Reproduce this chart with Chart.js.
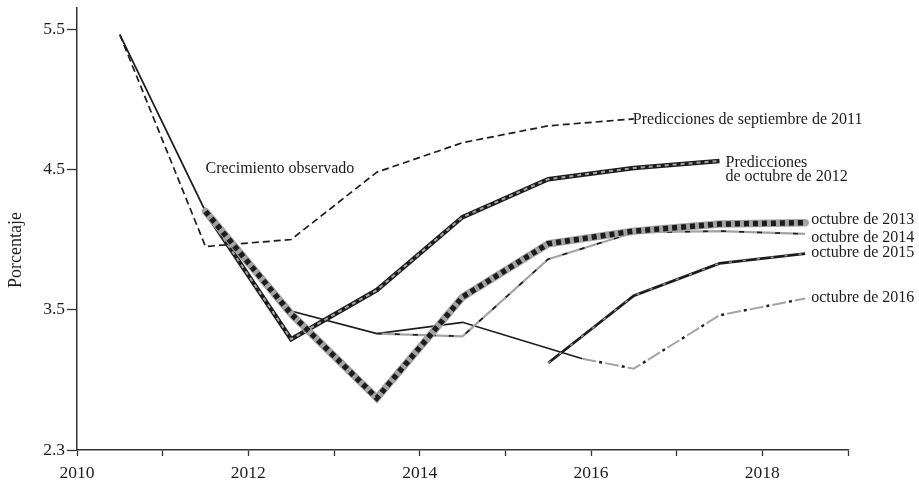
<!DOCTYPE html>
<html>
<head>
<meta charset="utf-8">
<script src="https://cdn.jsdelivr.net/npm/chart.js@4/dist/chart.umd.min.js"></script>
<style>
  html, body { margin: 0; padding: 0; background: #ffffff; }
  #wrap { width: 919px; height: 482px; }
</style>
</head>
<body>
<div id="wrap"><canvas id="growth" width="919" height="482"></canvas></div>
<script>
// Axis ticks
const xTickLabels = ['2010', '2012', '2014', '2016', '2018'];
const yTickValues = [2.5, 3.5, 4.5, 5.5];
const yTickLabels = ['2.3', '3.5', '4.5', '5.5'];

// Observed growth (percent)
const observedYears = [2010.5, 2011.5, 2012.5, 2013.5, 2014.5, 2015.9];
const observedValues = [5.46, 4.20, 3.49, 3.33, 3.41, 3.15];

// Forecast vintages
const sep2011Years = [2010.5, 2011.5, 2012.5, 2013.5, 2014.5, 2015.5, 2016.5];
const sep2011Values = [5.46, 3.95, 4.00, 4.48, 4.69, 4.81, 4.86];

const oct2012Years = [2011.5, 2012.5, 2013.5, 2014.5, 2015.5, 2016.5, 2017.5];
const oct2012Values = [4.20, 3.29, 3.64, 4.16, 4.43, 4.51, 4.56];

const oct2013Years = [2011.5, 2012.5, 2013.5, 2014.5, 2015.5, 2016.5, 2017.5, 2018.5];
const oct2013Values = [4.20, 3.47, 2.87, 3.59, 3.97, 4.06, 4.11, 4.12];

const oct2014Years = [2013.5, 2014.5, 2015.5, 2016.5, 2017.5, 2018.5];
const oct2014Values = [3.33, 3.31, 3.86, 4.05, 4.06, 4.04];

const oct2015Years = [2015.5, 2016.5, 2017.5, 2018.5];
const oct2015Values = [3.12, 3.60, 3.83, 3.90];

const oct2016Years = [2015.9, 2016.5, 2017.5, 2018.5];
const oct2016Values = [3.15, 3.08, 3.46, 3.58];

const INK = '#1c1c1c';
const GREY = '#a3a3a3';
const FONT = '"Liberation Serif", "DejaVu Serif", serif';

function pts(xs, ys) { return xs.map((x, i) => ({ x: x, y: ys[i] })); }

function line(xs, ys, style, order) {
  return Object.assign({
    data: pts(xs, ys),
    pointRadius: 0,
    pointHoverRadius: 0,
    fill: false,
    tension: 0,
    borderJoinStyle: 'miter',
    borderCapStyle: 'butt',
    order: order
  }, style);
}

const datasets = [
  // observed
  line(observedYears, observedValues, { borderColor: INK, borderWidth: 1.7 }, 20),
  // September 2011
  line(sep2011Years, sep2011Values, { borderColor: INK, borderWidth: 1.7, borderDash: [7, 4] }, 21),
  // October 2012: black band with grey dashes inside
  line(oct2012Years, oct2012Values, { borderColor: INK, borderWidth: 4.5 }, 12),
  line(oct2012Years, oct2012Values, { borderColor: GREY, borderWidth: 2, borderDash: [4, 4] }, 11),
  // October 2013: wide grey band with black squares
  line(oct2013Years, oct2013Values, { borderColor: GREY, borderWidth: 7.5, borderCapStyle: 'round' }, 2),
  line(oct2013Years, oct2013Values, { borderColor: INK, borderWidth: 5.5, borderDash: [5, 4] }, 1),
  // October 2014: grey with sparse black dashes
  line(oct2014Years, oct2014Values, { borderColor: GREY, borderWidth: 2.2 }, 8),
  line(oct2014Years, oct2014Values, { borderColor: INK, borderWidth: 1.6, borderDash: [5, 13] }, 7),
  // October 2015: black with short grey dashes
  line(oct2015Years, oct2015Values, { borderColor: INK, borderWidth: 2.8 }, 6),
  line(oct2015Years, oct2015Values, { borderColor: GREY, borderWidth: 1.3, borderDash: [3, 11] }, 5),
  // October 2016: grey dashes with black dots in the gaps
  line(oct2016Years, oct2016Values, { borderColor: GREY, borderWidth: 2, borderDash: [14, 9] }, 4),
  line(oct2016Years, oct2016Values, { borderColor: INK, borderWidth: 2.4, borderDash: [3, 20], borderDashOffset: 6 }, 3)
];

// Text placed next to each series (offsets in pixels from the anchor point)
const seriesLabels = [
  { lines: ['Crecimiento observado'], anchor: [2011.5, 4.52], dx: 0, dy: 6 },
  { lines: ['Predicciones de septiembre de 2011'], anchor: [2016.5, 4.86], dx: -1, dy: 5 },
  { lines: ['Predicciones', 'de octubre de 2012'], anchor: [2017.5, 4.56], dx: 6, dy: 6, lead: 14.5 },
  { lines: ['octubre de 2013'], anchor: [2018.5, 4.12], dx: 6, dy: 1 },
  { lines: ['octubre de 2014'], anchor: [2018.5, 4.04], dx: 6, dy: 8 },
  { lines: ['octubre de 2015'], anchor: [2018.5, 3.90], dx: 6, dy: 3 },
  { lines: ['octubre de 2016'], anchor: [2018.5, 3.58], dx: 6, dy: 4 }
];

const annotate = {
  id: 'annotate',
  afterDraw(chart) {
    const ctx = chart.ctx;
    const xs = chart.scales.x, ys = chart.scales.y;
    ctx.save();
    ctx.fillStyle = INK;
    ctx.font = '16px ' + FONT;
    ctx.textAlign = 'left';
    ctx.textBaseline = 'alphabetic';
    seriesLabels.forEach(l => {
      const px = xs.getPixelForValue(l.anchor[0]) + l.dx;
      const py = ys.getPixelForValue(l.anchor[1]) + l.dy;
      l.lines.forEach((t, i) => ctx.fillText(t, px, py + i * (l.lead || 15)));
    });
    // vertical axis title
    ctx.font = '18px ' + FONT;
    ctx.translate(16, 250);
    ctx.rotate(-Math.PI / 2);
    ctx.textAlign = 'center';
    ctx.textBaseline = 'middle';
    ctx.fillText('Porcentaje', 0, 0);
    ctx.restore();
  }
};

new Chart(document.getElementById('growth'), {
  type: 'line',
  data: { datasets: datasets },
  options: {
    responsive: false,
    animation: false,
    devicePixelRatio: 1,
    layout: { padding: { top: 8, right: 71, left: 0, bottom: 0 } },
    plugins: { legend: { display: false }, tooltip: { enabled: false } },
    events: [],
    scales: {
      x: {
        type: 'linear',
        min: 2010,
        max: 2019,
        border: { display: true, color: '#333333', width: 1.5 },
        grid: { display: true, drawOnChartArea: false, drawTicks: true, tickLength: 6, tickColor: '#333333', tickWidth: 1.3 },
        ticks: {
          stepSize: 1,
          autoSkip: false,
          maxRotation: 0,
          padding: 7,
          color: INK,
          font: { family: FONT, size: 17.5 },
          callback: v => xTickLabels.includes(String(v)) ? String(v) : ''
        },
        afterFit: s => { s.height = 32; s.paddingLeft = 0; s.paddingRight = 0; }
      },
      y: {
        type: 'linear',
        min: 2.5,
        max: 5.65,
        border: { display: true, color: '#333333', width: 1.5 },
        grid: { display: true, drawOnChartArea: false, drawTicks: true, tickLength: 10, tickColor: '#333333', tickWidth: 1.3 },
        afterBuildTicks: s => { s.ticks = yTickValues.map(v => ({ value: v })); },
        ticks: {
          autoSkip: false,
          padding: 2,
          color: INK,
          font: { family: FONT, size: 17.5 },
          callback: v => yTickLabels[yTickValues.indexOf(v)]
        },
        afterFit: s => { s.width = 77; s.paddingTop = 0; s.paddingBottom = 0; }
      }
    }
  },
  plugins: [annotate]
});
</script>
</body>
</html>
